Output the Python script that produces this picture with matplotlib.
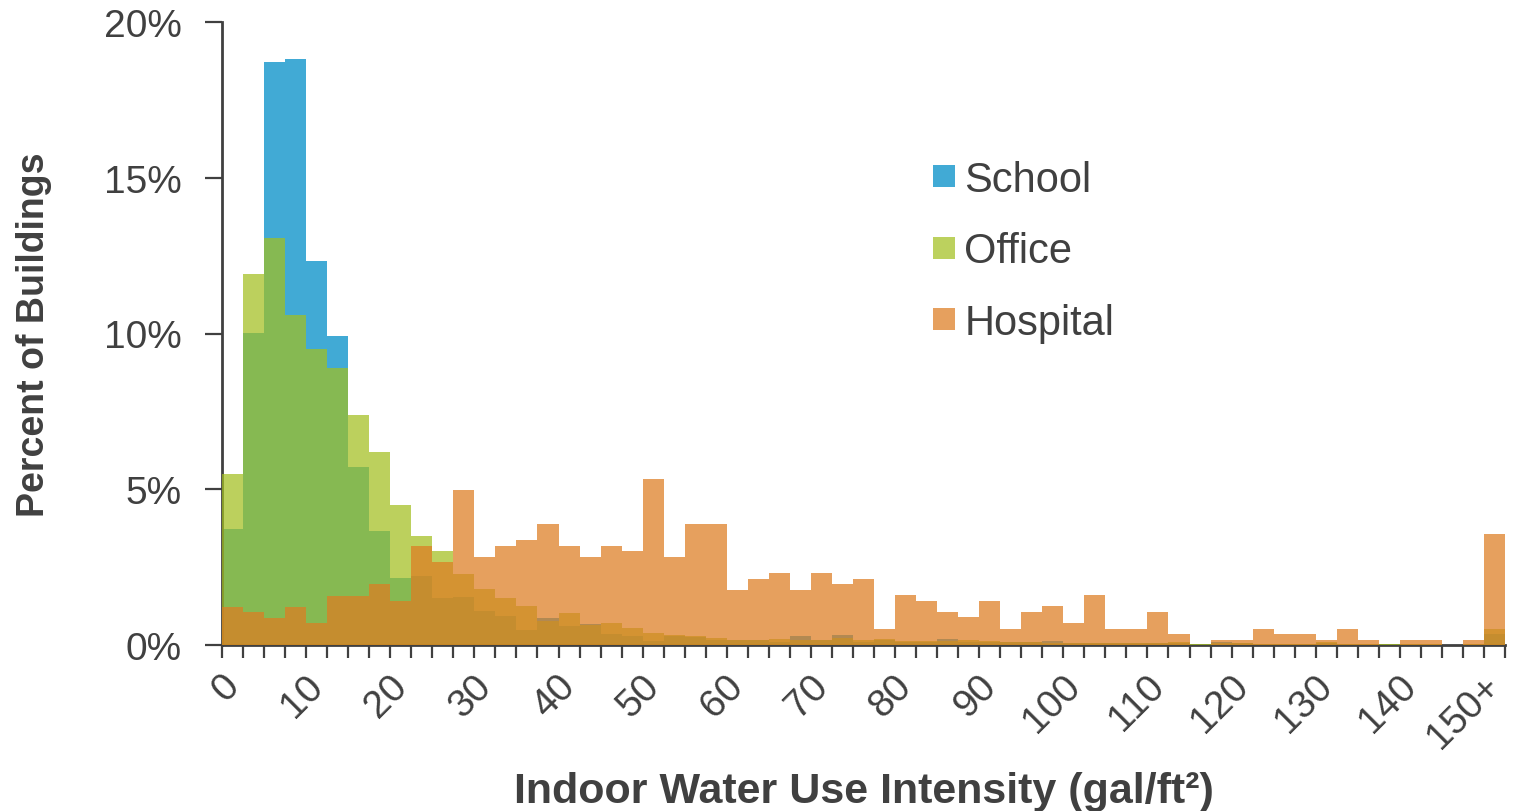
import matplotlib
matplotlib.use("Agg")
import matplotlib.pyplot as plt
import matplotlib.transforms as mtransforms
import numpy as np
from matplotlib.lines import Line2D

plt.rcParams["font.family"] = ["Liberation Sans", "DejaVu Sans"]

# Bins of 2.5 gal/ft2, 0-2.5 ... 147.5-150, then 150+
bin_count = 61
tick_labels = [str(v) for v in range(0, 150, 10)] + ["150+"]

# Percent of buildings per bin
school = [3.71, 10.03, 18.71, 18.8, 12.33, 9.91, 5.72, 3.67, 2.14, 2.21,
          1.51, 1.53, 1.09, 0.93, 0.48, 0.86, 0.61, 0.69, 0.36, 0.30,
          0.13, 0.28, 0.25, 0.15, 0.15, 0.15, 0.10, 0.28, 0.15, 0.33,
          0.10, 0.15, 0.10, 0.10, 0.19, 0.10, 0.10, 0.10, 0.10, 0.13,
          0.05, 0.05, 0.05, 0.08, 0.05, 0.05, 0.0, 0.10, 0.05, 0.0,
          0.0, 0.0, 0.05, 0.0, 0.0, 0.0, 0.0, 0.0, 0.0, 0.0,
          0.35]
office = [5.49, 11.9, 13.07, 10.58, 9.5, 8.88, 7.39, 6.21, 4.49, 3.51,
          3.03, 2.27, 1.80, 1.51, 1.25, 0.76, 1.03, 0.65, 0.70, 0.55,
          0.39, 0.32, 0.28, 0.22, 0.15, 0.15, 0.18, 0.15, 0.15, 0.22,
          0.16, 0.19, 0.13, 0.13, 0.13, 0.16, 0.13, 0.10, 0.10, 0.08,
          0.05, 0.05, 0.05, 0.05, 0.05, 0.10, 0.03, 0.05, 0.05, 0.03,
          0.03, 0.03, 0.10, 0.03, 0.03, 0.02, 0.03, 0.03, 0.0, 0.03,
          0.50]
hospital = [1.22, 1.05, 0.86, 1.22, 0.70, 1.58, 1.58, 1.95, 1.41, 3.17,
            2.66, 4.97, 2.84, 3.19, 3.38, 3.90, 3.19, 2.84, 3.19, 3.01,
            5.33, 2.84, 3.90, 3.90, 1.77, 2.12, 2.30, 1.77, 2.30, 1.95,
            2.12, 0.52, 1.59, 1.41, 1.06, 0.89, 1.41, 0.52, 1.06, 1.24,
            0.71, 1.59, 0.52, 0.52, 1.06, 0.34, 0.0, 0.16, 0.16, 0.52,
            0.34, 0.34, 0.16, 0.52, 0.16, 0.0, 0.16, 0.16, 0.0, 0.16,
            3.55]

TEXT = "#404040"


def main() -> None:
    fig = plt.figure(figsize=(15.14, 8.12), dpi=100)
    W, H = 1514, 812
    ax = fig.add_axes([222 / W, 1 - 646 / H, (1505 - 222) / W, (646 - 23) / H])

    x = np.arange(bin_count)
    ax.bar(x, school, width=1.0, color="#41AAD5", linewidth=0, zorder=2)
    ax.bar(x, office, width=1.0, color=(162 / 255, 191 / 255, 31 / 255),
           alpha=0.72, linewidth=0, zorder=3)
    ax.bar(x, hospital, width=1.0, color=(221 / 255, 125 / 255, 34 / 255),
           alpha=0.73, linewidth=0, zorder=4)

    for side in ("top", "right"):
        ax.spines[side].set_visible(False)
    for side in ("left", "bottom"):
        ax.spines[side].set_color(TEXT)
        ax.spines[side].set_linewidth(2.0)

    # y axis
    ax.set_yticks([0, 5, 10, 15, 20])
    ax.set_yticklabels([f"{v}%" for v in (0, 5, 10, 15, 20)])
    ax.tick_params(axis="y", direction="out", length=12, width=1.6,
                   color=TEXT, labelcolor=TEXT, labelsize=28, pad=17)

    # x axis: ticks at bin edges, labels every 10 units
    ax.set_xticks(np.arange(-0.5, bin_count, 1.0), minor=True)
    ax.set_xticks(list(np.arange(0, 60, 4)) + [60])
    ax.set_xticklabels(tick_labels, rotation=45, ha="right", va="top",
                       rotation_mode="anchor")
    ax.tick_params(axis="x", which="minor", direction="out", length=9,
                   width=1.6, color=TEXT)
    ax.tick_params(axis="x", which="major", length=0, labelcolor=TEXT,
                   labelsize=28, pad=16)
    shift = mtransforms.ScaledTranslation(-0.12, 0, fig.dpi_scale_trans)
    for lab in ax.get_xticklabels():
        lab.set_transform(lab.get_transform() + shift)

    ax.set_xlim(-0.5, bin_count - 0.5)
    ax.set_ylim(0, 20)

    ax.set_ylabel("Percent of Buildings", fontsize=27, fontweight="bold",
                  color=TEXT)
    ax.yaxis.set_label_coords((52 - 222) / 1283, 0.5)
    ax.set_xlabel("Indoor Water Use Intensity (gal/ft²)",
                  fontsize=31, fontweight="bold", color=TEXT)
    ax.xaxis.set_label_coords(0.5, -(772 - 646) / 623)

    handles = [
        Line2D([], [], marker="s", linestyle="none", markersize=15.5,
               markerfacecolor=c, markeredgewidth=0)
        for c in ("#41AAD5", "#BCD15E", "#E6A05E")
    ]
    fig.legend(handles, ["School", "Office", "Hospital"],
               loc="upper left", bbox_to_anchor=(933 / W, 1 - 161 / H),
               frameon=False, fontsize=30, labelcolor=TEXT,
               handlelength=0.55, handletextpad=0.2, labelspacing=0.75,
               borderaxespad=0, borderpad=0)

    fig.savefig("out.png", dpi=100, facecolor="white")
    plt.close(fig)


if __name__ == "__main__":
    main()
